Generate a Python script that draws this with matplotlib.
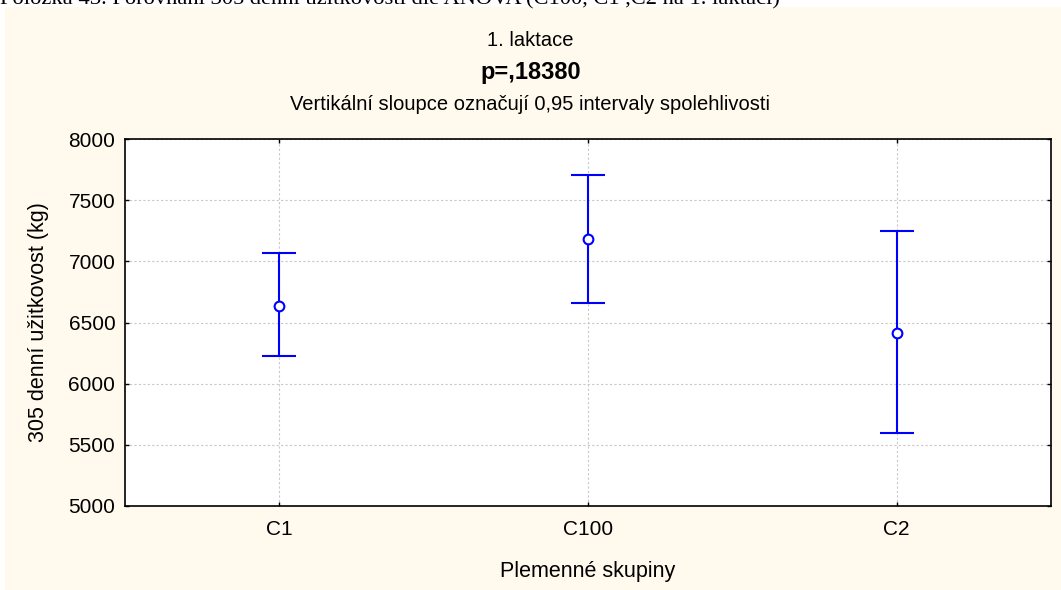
import matplotlib.pyplot as plt
import matplotlib.patches as mpatches
import numpy as np

# data
groups = ["C1", "C100", "C2"]
means = [6637, 7181, 6414]
upper = [7071, 7710, 7251]
lower = [6228, 6659, 5592]

yticks = [5000, 5500, 6000, 6500, 7000, 7500, 8000]

plt.rcParams['font.family'] = ['Liberation Sans', 'DejaVu Sans']

W, H = 1061, 590
fig = plt.figure(figsize=(W / 100, H / 100), dpi=100)
fig.patch.set_facecolor("white")

# cream background panel
bg = mpatches.Rectangle((5 / W, 0), 1 - 5 / W, (H - 7) / H, transform=fig.transFigure,
                        facecolor="#FFF9EE", edgecolor="none", zorder=-10)
fig.patches.append(bg)

# caption line cut off at the top
fig.text(0.0, (H - 4) / H, "Položka 43. Porovnání 305 denní užitkovosti dle ANOVA (C100, C1 ,C2 na 1. laktaci)",
         family=['Liberation Serif', 'DejaVu Serif'], fontsize=16.2, va="baseline", ha="left")

ax = fig.add_axes([125 / W, (H - 505.7) / H, (1051 - 125) / W, (505.7 - 139.3) / H])
ax.set_facecolor("white")

x = np.arange(len(groups))
m = np.array(means)
err = np.array([m - np.array(lower), np.array(upper) - m])
ax.errorbar(x, m, yerr=err, fmt="o", color="blue", ecolor="blue", elinewidth=1.5,
            capsize=12, capthick=1.5, markersize=7, markerfacecolor="white",
            markeredgecolor="blue", markeredgewidth=1.5, zorder=5)

ax.set_xlim(-0.5, 2.5)
ax.set_ylim(5000, 8000)
ax.set_xticks(x)
ax.set_xticklabels(groups)
ax.set_yticks(yticks)
ax.tick_params(direction="in", length=3, width=1, top=True, right=True, labelsize=15)
ax.tick_params(axis="x", pad=10)
ax.tick_params(axis="y", pad=7)
ax.grid(True, color="#c8c8c8", linestyle=(0, (2, 2)), linewidth=0.8)
for s in ax.spines.values():
    s.set_linewidth(1.2)

ax.set_xlabel("Plemenné skupiny", fontsize=15.5, labelpad=16)
ax.set_ylabel("305 denní užitkovost (kg)", fontsize=15.5, labelpad=14)

fig.text(0.5, (H - 40) / H, "1. laktace", ha="center", va="center", fontsize=14.5)
fig.text(0.5, (H - 72) / H, "p=,18380", ha="center", va="center", fontsize=17, fontweight="bold")
fig.text(0.5, (H - 105) / H, "Vertikální sloupce označují 0,95 intervaly spolehlivosti",
         ha="center", va="center", fontsize=14.5)

fig.savefig("out.png", dpi=100)
